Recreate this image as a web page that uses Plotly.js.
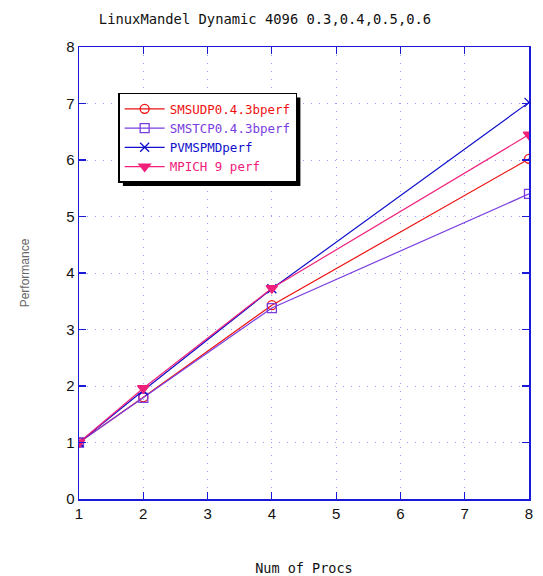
<!DOCTYPE html>
<html>
<head>
<meta charset="utf-8">
<script src="https://cdn.plot.ly/plotly-3.0.1.min.js"></script>
<style>html,body{margin:0;padding:0;background:#fff;}#chart{width:543px;height:576px;}</style>
</head>
<body>
<div id="chart"></div>
<script>
const procs = [1, 2, 4, 8];
const smsudp = [1, 1.80, 3.43, 6.02];
const smstcp = [1, 1.79, 3.38, 5.40];
const pvmspmd = [1, 1.92, 3.72, 7.02];
const mpich = [1, 1.96, 3.73, 6.45];
const seriesNames = ['SMSUDP0.4.3bperf', 'SMSTCP0.4.3bperf', 'PVMSPMDperf', 'MPICH 9 perf'];
const xTicks = [1, 2, 3, 4, 5, 6, 7, 8];
const yTicks = [0, 1, 2, 3, 4, 5, 6, 7, 8];

const colors = ['#ee1111', '#7a3ee0', '#1010cc', '#f0207a'];
const symbols = ['circle-open', 'square-open', 'x-thin-open', 'triangle-down'];
const data = [smsudp, smstcp, pvmspmd, mpich].map((ys, i) => ({
  x: procs, y: ys, type: 'scatter', mode: 'lines+markers',
  name: '<span style="color:' + colors[i] + '">' + seriesNames[i] + '</span>',
  line: {color: colors[i], width: 1.2},
  marker: {symbol: symbols[i], size: i === 3 ? 10 : 9, color: colors[i], line: {color: colors[i], width: 1.3}}
}));

const layout = {
  width: 543, height: 576,
  margin: {l: 79, r: 14, t: 47, b: 77},
  paper_bgcolor: '#fff', plot_bgcolor: '#fff',
  font: {family: 'DejaVu Sans Mono, monospace', color: '#111'},
  title: {text: 'LinuxMandel Dynamic 4096 0.3,0.4,0.5,0.6', x: 0.488, xanchor: 'center', y: 0.967, yanchor: 'middle',
          font: {family: 'DejaVu Sans Mono, monospace', size: 13.8, color: '#111'}},
  showlegend: true,
  legend: {x: 0.087, y: 0.899, xanchor: 'left', yanchor: 'top', bgcolor: '#fff', bordercolor: '#000', borderwidth: 1.5,
           font: {family: 'DejaVu Sans Mono, monospace', size: 12.5}, tracegroupgap: 0, itemwidth: 40},
  xaxis: {range: [1, 8], tickvals: xTicks, ticktext: xTicks.map(String), showline: true, mirror: 'ticks', linecolor: '#1a1ad8', linewidth: 1.5,
          ticks: 'inside', ticklen: 7, tickcolor: '#1a1ad8', tickwidth: 1.2,
          showgrid: true, gridcolor: '#9a9af8', griddash: '1px,7px', gridwidth: 1, zeroline: false,
          tickfont: {family: 'Liberation Sans, Arial', size: 15, color: '#111'},
          title: {text: 'Num of Procs', font: {family: 'DejaVu Sans Mono, monospace', size: 13.5, color: '#111'}, standoff: 45}},
  yaxis: {range: [0, 8], tickvals: yTicks, ticktext: yTicks.map(String), showline: true, mirror: 'ticks', linecolor: '#1a1ad8', linewidth: 1.5,
          ticks: 'inside', ticklen: 7, tickcolor: '#1a1ad8', tickwidth: 1.2,
          showgrid: true, gridcolor: '#9a9af8', griddash: '1px,7px', gridwidth: 1, zeroline: false,
          tickfont: {family: 'Liberation Sans, Arial', size: 15, color: '#111'},
          title: {text: 'Performance', font: {family: 'Liberation Sans, Arial', size: 12, color: '#666'}, standoff: 34}}
};
Plotly.newPlot('chart', data, layout, {displayModeBar: false, staticPlot: true}).then(gd => {
  const bg = gd.querySelector('.legend .bg');
  if (!bg) return;
  const r = bg.getBoundingClientRect();
  const W = 543 - 79 - 14, H = 576 - 47 - 77;
  const off = 4;
  const x0 = (r.left + off - 79) / W, x1 = (r.right + off - 79) / W;
  const y0 = (576 - 77 - (r.bottom + off)) / H, y1 = (576 - 77 - (r.top + off)) / H;
  Plotly.relayout(gd, {shapes: [{type: 'rect', xref: 'paper', yref: 'paper', x0: x0, x1: x1, y0: y0, y1: y1,
    fillcolor: '#000', line: {width: 0}, layer: 'above'}]});
});
</script>
</body>
</html>
